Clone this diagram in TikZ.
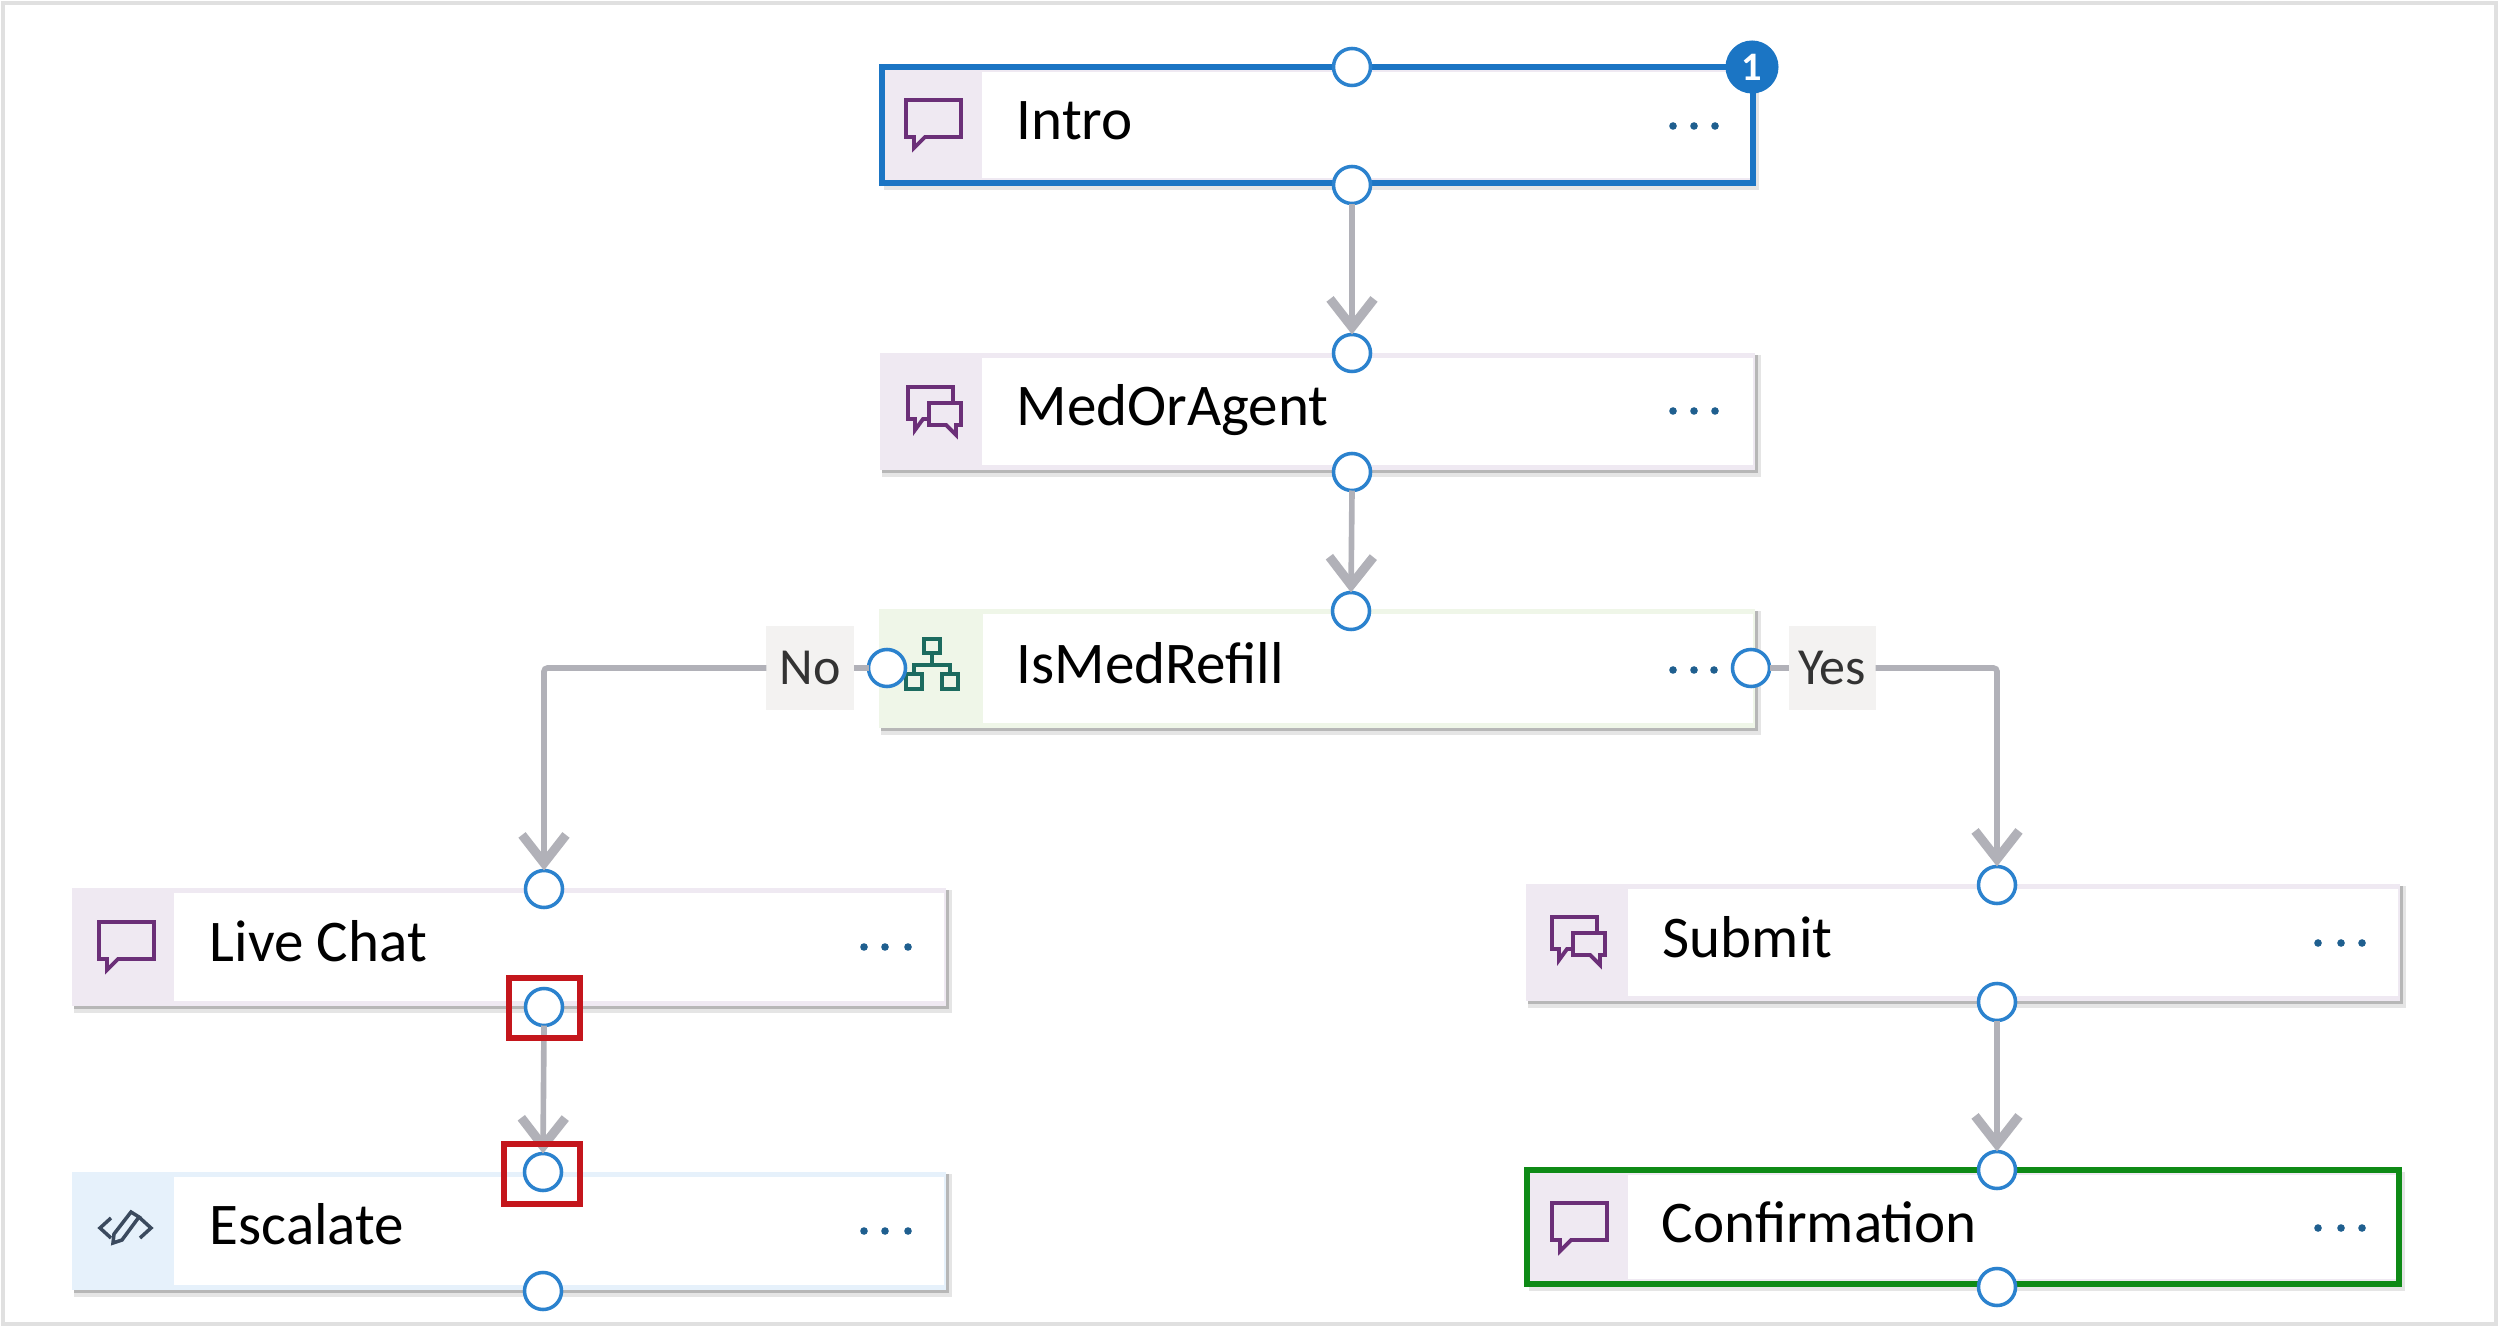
\documentclass[tikz,border=0pt]{standalone}
\usepackage{fontspec}
\setmainfont{Carlito}
\usetikzlibrary{arrows.meta,fit}
\definecolor{flowgray}{HTML}{B1B1B8}
\definecolor{portblue}{HTML}{2B82CE}
\definecolor{selblue}{HTML}{1B75C4}
\definecolor{selgreen}{HTML}{0E8A16}
\definecolor{bandpurple}{HTML}{EFE9F2}
\definecolor{bandgreen}{HTML}{EFF6E8}
\definecolor{bandblue}{HTML}{E6F1FB}
\definecolor{iconpurple}{HTML}{6B2F78}
\definecolor{icongreen}{HTML}{1C6B5F}
\definecolor{iconslate}{HTML}{3B4A5E}
\definecolor{dotblue}{HTML}{1F5F8F}
\definecolor{labelbg}{HTML}{F3F2F1}
\definecolor{alertred}{HTML}{C4161C}
\tikzset{
  cardbox/.style={inner sep=0pt,outer sep=0pt,draw=none},
  cardtext/.style={anchor=base west,inner sep=0pt,text=black,font=\fontsize{16.8}{20}\selectfont},
  port/.style={circle,draw=portblue,fill=white,line width=1pt,minimum size=0.37cm,inner sep=0pt,outer sep=0pt},
  flow/.style={draw=flowgray,line width=1.6pt,-{Straight Barb[length=8pt,width=12.5pt,line width=2.6pt]}},
  flowplain/.style={draw=flowgray,line width=1.6pt},
  branch/.style={fill=labelbg,text=black!80,inner sep=0pt,minimum width=0.87cm,minimum height=0.83cm,outer sep=0pt,font=\fontsize{14.8}{18}\selectfont},
  menudot/.style={fill=dotblue,draw=none},
  icon/.style={draw=iconpurple,line width=1.1pt,fill=none,line join=miter},
  alertbox/.style={draw=alertred,line width=1.7pt,fill=none,inner sep=0pt,outer sep=0pt},
}
% name, left, top, right, bottom, band colour, band end
\newcommand{\cardbase}[7]{%
  \fill[black!45,opacity=.22] (#2+2,#3+2) rectangle (#4+6,#5+7);
  \fill[black!50,opacity=.45] (#2+2,#3+2) rectangle (#4+3,#5+3);
  \fill[#6] (#2,#3) rectangle (#4,#5);
  \fill[white] (#7,#3+5) rectangle (#4-2,#5-5);
  \fill[#6] (#2,#3) rectangle (#7,#5);
  \node[cardbox,fit={(#2,#3)(#4,#5)}] (#1) {};
}
\newcommand{\menudots}[4]{%
  \fill[menudot] (#1,#4) circle (3.8);
  \fill[menudot] (#2,#4) circle (3.8);
  \fill[menudot] (#3,#4) circle (3.8);
}
\newcommand{\singlebubble}[2]{%
  \begin{scope}[shift={(#1,#2)}]
    \draw[icon] (0,0) -- (0,37) -- (8,37) -- (8,48) -- (19,37) -- (55,37) -- (55,0) -- cycle;
  \end{scope}
}
\newcommand{\doublebubble}[2]{%
  \begin{scope}[shift={(#1,#2)}]
    \draw[icon] (45,14) -- (45,0) -- (0,0) -- (0,32) -- (7,32) -- (7,43) -- (15,32) -- (20,32);
    \draw[icon] (21,16) -- (53,16) -- (53,38) -- (48,38) -- (48,48) -- (38,38) -- (21,38) -- cycle;
  \end{scope}
}
\begin{document}
\begin{tikzpicture}[x=0.01cm,y=-0.01cm]
\useasboundingbox (0,0) rectangle (2500,1328);
\fill[white] (0,0) rectangle (2500,1328);
\draw[draw=black!12,line width=1.1pt] (3,3) rectangle (2496,1324);

% cards
\cardbase{intro}{882}{67}{1753}{183}{bandpurple}{982}
\cardbase{med}{880}{353}{1755}{470}{bandpurple}{982}
\cardbase{refill}{879}{609}{1755}{728}{bandgreen}{983}
\cardbase{live}{72}{888}{946}{1006}{bandpurple}{174}
\cardbase{esc}{72}{1172}{946}{1290}{bandblue}{174}
\cardbase{sub}{1526}{884}{2400}{1001}{bandpurple}{1628}
\cardbase{conf}{1527}{1170}{2399}{1284}{bandpurple}{1628}
\draw[draw=selblue,line width=1.5pt] (intro.north west) rectangle (intro.south east);
\draw[draw=selgreen,line width=1.6pt] (conf.north west) rectangle (conf.south east);

% icons
\singlebubble{906}{100}
\doublebubble{908}{387}
\singlebubble{99}{922}
\doublebubble{1552}{917}
\singlebubble{1552}{1203}
\begin{scope}[draw=icongreen,line width=1pt]
  \draw (924,639) rectangle (940,653);
  \draw (906,674) rectangle (922,689);
  \draw (942,674) rectangle (958,689);
  \draw (932,653) -- (932,665);
  \draw (914,674) -- (914,665) -- (950,665) -- (950,674);
\end{scope}
\begin{scope}[draw=iconslate,line width=1pt]
  \draw (111,1218) -- (100,1228) -- (111,1238);
  \draw (140,1218) -- (151,1228) -- (140,1238);
  \draw (131,1212) -- (139,1217) -- (122,1240) -- (113,1243) -- (114,1234) -- cycle;
\end{scope}

% ports
\node[port] (introN) at (1352,67) {};
\node[port] (introS) at (1352,185) {};
\node[port] (medN) at (1352,353) {};
\node[port] (medS) at (1352,472) {};
\node[port] (refillN) at (1351,611) {};
\node[port] (refillW) at (887,668) {};
\node[port] (refillE) at (1751,668) {};
\node[port] (liveN) at (544,889) {};
\node[port] (liveS) at (544,1007) {};
\node[port] (escN) at (543,1172) {};
\node[port] (escS) at (543,1291) {};
\node[port] (subN) at (1997,885) {};
\node[port] (subS) at (1997,1002) {};
\node[port] (confN) at (1997,1170) {};
\node[port] (confS) at (1997,1287) {};

% branch labels
\node[branch] (noLabel) at (810,668) {No};
\node[branch] (yesLabel) at (1832,668) {Yes};

% connectors
\draw[flow] (introS.south) -- (medN.north);
\draw[flow] (medS.south) -- (refillN.north);
\draw[flow] (liveS.south) -- (escN.north);
\draw[flow] (subS.south) -- (confN.north);
\draw[flowplain] (refillW.west) -- (noLabel.east);
\draw[flowplain] (refillE.east) -- (yesLabel.west);
\draw[flow,rounded corners=1pt] (noLabel.west) -| (liveN.north);
\draw[flow,rounded corners=1pt] (yesLabel.east) -| (subN.north);

% card texts
\node[cardtext] (introT) at (1016,140) {Intro};
\node[cardtext] (medT) at (1016,426) {MedOrAgent};
\node[cardtext] (refillT) at (1016,683) {IsMedRefill};
\node[cardtext] (liveT) at (209,961) {Live Chat};
\node[cardtext] (escT) at (209,1244) {Escalate};
\node[cardtext] (subT) at (1662,957) {Submit};
\node[cardtext] (confT) at (1661,1242) {Confirmation};

% menu dots
\menudots{1673}{1694}{1715}{126}
\menudots{1673}{1694}{1715}{411}
\menudots{1673}{1694}{1714}{670}
\menudots{864}{885}{908}{947}
\menudots{864}{885}{908}{1231}
\menudots{2318}{2341}{2362}{943}
\menudots{2318}{2341}{2362}{1228}

% badge
\node[circle,fill=selblue,text=white,minimum size=0.53cm,inner sep=0pt,font=\fontsize{11.5}{13}\selectfont\bfseries] (badge) at (1752,67) {1};

% highlight boxes
\node[alertbox,fit={(509,978)(580,1038)}] (alertA) {};
\node[alertbox,fit={(504,1144)(580,1204)}] (alertB) {};
\end{tikzpicture}
\end{document}
